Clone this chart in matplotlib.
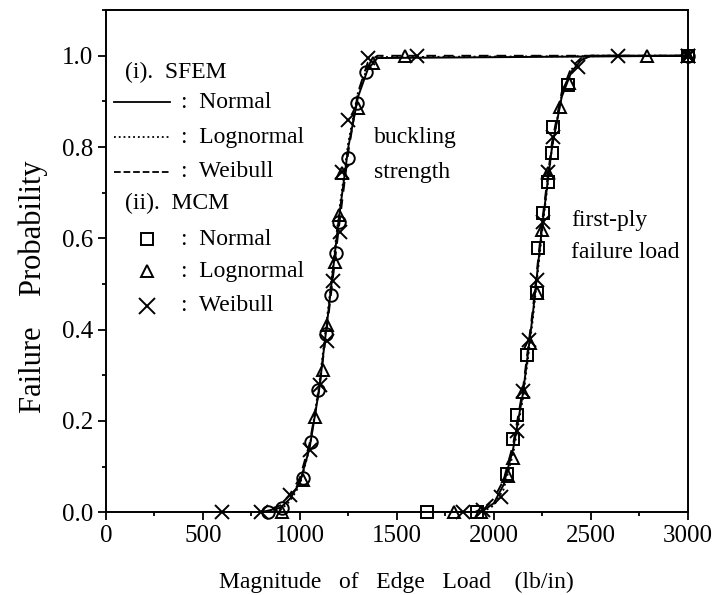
import matplotlib
matplotlib.use('Agg')
import matplotlib.pyplot as plt
from matplotlib.ticker import MultipleLocator

plt.rcParams['font.family'] = ['Liberation Serif', 'DejaVu Serif']

# SFEM curves (lines) - buckling strength
buck_load = [500, 800, 900, 950, 1000, 1050, 1100, 1150, 1200, 1250, 1300, 1350, 1400, 3000]
buck_normal = [0.0, 0.0, 0.01, 0.03, 0.065, 0.14, 0.27, 0.45, 0.64, 0.80, 0.91, 0.97, 0.995, 1.0]
buck_lognormal = [0.0, 0.0, 0.005, 0.025, 0.06, 0.14, 0.28, 0.46, 0.65, 0.81, 0.92, 0.975, 0.997, 1.0]
buck_weibull = [0.0, 0.0, 0.015, 0.04, 0.075, 0.15, 0.27, 0.44, 0.62, 0.79, 0.92, 0.985, 1.0, 1.0]

# SFEM curves (lines) - first-ply failure load
fpf_load = [1700, 1900, 1950, 2000, 2050, 2100, 2150, 2200, 2250, 2300, 2350, 2400, 2450, 2500, 3000]
fpf_normal = [0.0, 0.0, 0.005, 0.02, 0.06, 0.14, 0.26, 0.43, 0.63, 0.80, 0.91, 0.965, 0.99, 1.0, 1.0]
fpf_lognormal = [0.0, 0.0, 0.003, 0.015, 0.05, 0.13, 0.25, 0.42, 0.62, 0.80, 0.915, 0.97, 0.992, 1.0, 1.0]
fpf_weibull = [0.0, 0.0, 0.01, 0.03, 0.07, 0.15, 0.27, 0.44, 0.64, 0.81, 0.92, 0.975, 0.995, 1.0, 1.0]

# MCM points - buckling strength
bk_norm_x = [835, 910, 1015, 1057, 1095, 1137, 1160, 1186, 1203, 1247, 1294, 1340, 3000]
bk_norm_p = [0.0, 0.01, 0.075, 0.155, 0.267, 0.39, 0.475, 0.568, 0.635, 0.776, 0.897, 0.965, 1.0]
bk_logn_x = [907, 1018, 1080, 1118, 1142, 1180, 1201, 1216, 1300, 1375, 1541, 3000]
bk_logn_p = [0.0, 0.07, 0.208, 0.311, 0.41, 0.548, 0.651, 0.743, 0.886, 0.985, 1.0, 1.0]
bk_weib_x = [598, 800, 950, 1052, 1103, 1142, 1170, 1206, 1216, 1247, 1350, 1603, 3000]
bk_weib_p = [0.0, 0.0, 0.037, 0.136, 0.278, 0.375, 0.507, 0.614, 0.745, 0.86, 0.995, 1.0, 1.0]

# MCM points - first-ply failure load
fp_norm_x = [1658, 1912, 2069, 2098, 2119, 2172, 2222, 2230, 2253, 2278, 2299, 2306, 2381, 3000]
fp_norm_p = [0.0, 0.0, 0.083, 0.16, 0.213, 0.344, 0.48, 0.58, 0.656, 0.724, 0.787, 0.845, 0.936, 1.0]
fp_logn_x = [1795, 1935, 2072, 2098, 2149, 2186, 2222, 2247, 2278, 2340, 2385, 2789, 3000]
fp_logn_p = [0.0, 0.0, 0.08, 0.12, 0.263, 0.371, 0.48, 0.618, 0.743, 0.888, 0.94, 1.0, 1.0]
fp_weib_x = [1840, 1945, 2036, 2118, 2149, 2180, 2222, 2253, 2278, 2304, 2433, 2639, 3000]
fp_weib_p = [0.0, 0.004, 0.033, 0.178, 0.265, 0.378, 0.509, 0.636, 0.745, 0.823, 0.976, 1.0, 1.0]

fig = plt.figure(figsize=(7.15, 5.95), dpi=100)
ax = fig.add_axes([0.148, 0.139, 0.814, 0.844])

line_kw = dict(color='black', lw=1.4)
for xs, n, l, w in [(buck_load, buck_normal, buck_lognormal, buck_weibull),
                    (fpf_load, fpf_normal, fpf_lognormal, fpf_weibull)]:
    ax.plot(xs, n, '-', **line_kw)
    ax.plot(xs, l, ':', **line_kw)
    ax.plot(xs, w, '--', dashes=(5, 4), **line_kw)

open_kw = dict(linestyle='none', mfc='none', mec='black', mew=1.4, clip_on=False)
ax.plot(bk_norm_x, bk_norm_p, marker='o', ms=9, **open_kw)
ax.plot(bk_logn_x, bk_logn_p, marker='^', ms=9, **open_kw)
ax.plot(bk_weib_x, bk_weib_p, marker='x', ms=10, **open_kw)
ax.plot(fp_norm_x, fp_norm_p, marker='s', ms=8, **open_kw)
ax.plot(fp_logn_x, fp_logn_p, marker='^', ms=9, **open_kw)
ax.plot(fp_weib_x, fp_weib_p, marker='x', ms=10, **open_kw)

ax.set_xlim(0, 3000)
ax.set_ylim(0, 1.1)
ax.xaxis.set_major_locator(MultipleLocator(500))
ax.xaxis.set_minor_locator(MultipleLocator(250))
ax.yaxis.set_major_locator(MultipleLocator(0.2))
ax.yaxis.set_minor_locator(MultipleLocator(0.1))
ax.yaxis.set_major_formatter(plt.FuncFormatter(lambda v, p: f'{v:.1f}'))
ax.tick_params(which='both', direction='out', top=False, right=False, labelsize=18, width=1.3, pad=3)
ax.tick_params(which='major', length=6)
ax.tick_params(which='minor', length=3)
for s in ax.spines.values():
    s.set_linewidth(1.4)

ax.set_xlabel('Magnitude   of   Edge   Load    (lb/in)', fontsize=17, labelpad=18)
ax.set_ylabel('Failure    Probability', fontsize=22)
ax.yaxis.set_label_coords(-0.1, 0.45)

# hand-made legend
fs = 17
ax.text(100, 0.963, '(i).  SFEM', fontsize=fs, va='center')
rows = [('-', 'Normal', 0.898), (':', 'Lognormal', 0.822), ('--', 'Weibull', 0.746)]
for ls, name, y in rows:
    ax.plot([40, 330], [y, y], ls, color='black', lw=1.3, clip_on=False)
    ax.text(390, y, ':  ' + name, fontsize=fs, va='center')
ax.text(100, 0.676, '(ii).  MCM', fontsize=fs, va='center')
mrows = [('s', 'Normal', 0.598, 9), ('^', 'Lognormal', 0.528, 8), ('x', 'Weibull', 0.452, 12)]
for m, name, y, ms in mrows:
    ax.plot([210], [y], marker=m, ms=ms, **open_kw)
    ax.text(390, y, ':  ' + name, fontsize=fs, va='center')

ax.text(1380, 0.82, 'buckling', fontsize=fs, va='center')
ax.text(1380, 0.745, 'strength', fontsize=fs, va='center')
ax.text(2400, 0.64, 'first-ply', fontsize=fs, va='center')
ax.text(2400, 0.57, 'failure load', fontsize=fs, va='center')

fig.savefig('out.png', dpi=100)
